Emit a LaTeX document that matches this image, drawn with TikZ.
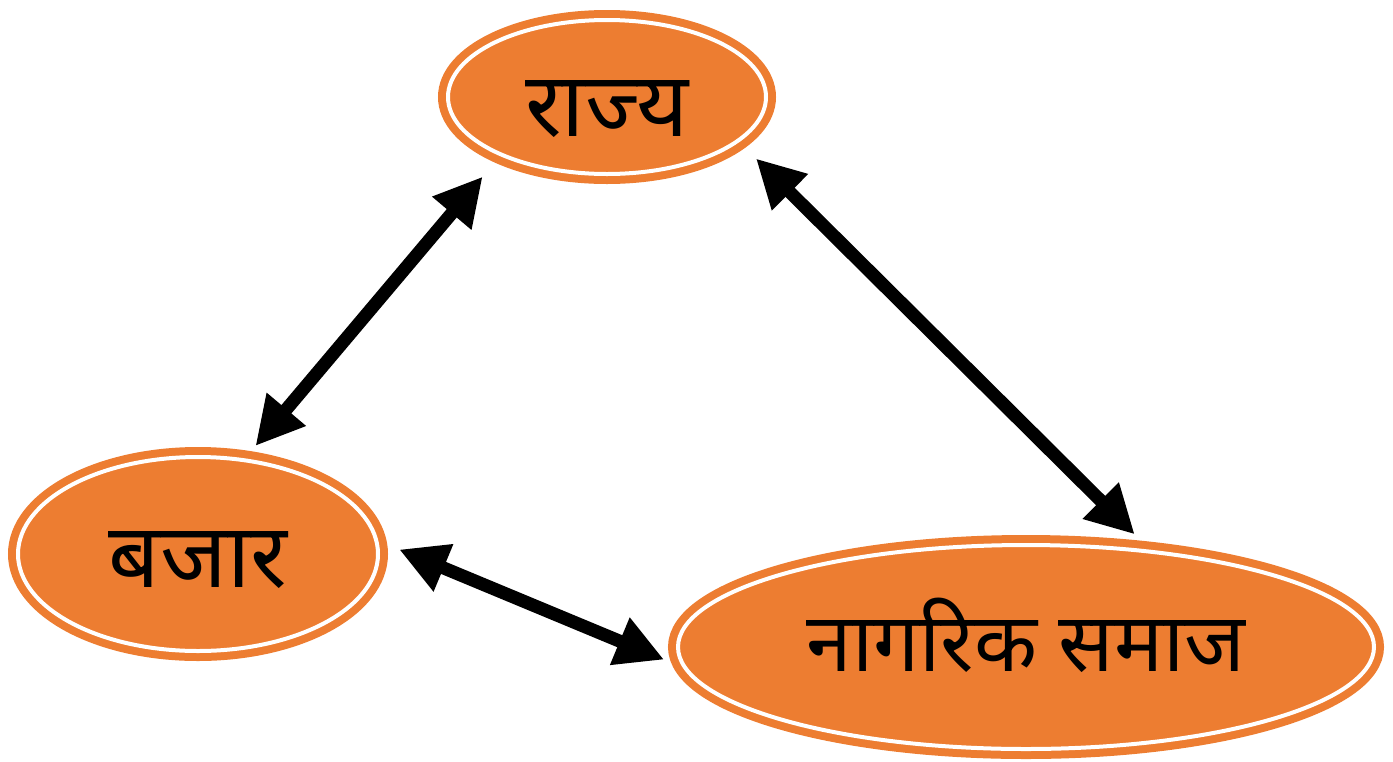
\documentclass[tikz,border=0pt]{standalone}
\usepackage{fontspec}
\usetikzlibrary{shapes.geometric,arrows.meta}
\newfontfamily\devfont[Script=Devanagari]{Noto Sans}
\definecolor{boxorange}{HTML}{ED7D31}

\begin{document}
\begin{tikzpicture}[x=0.5pt, y=-0.5pt,
    sector/.style={ellipse, fill=boxorange, draw=boxorange, line width=4pt,
      double=white, double distance=2pt, inner sep=0pt, outer sep=8pt},
    sectortext/.style={font=\devfont\fontsize{45}{48}\selectfont},
    link/.style={{Triangle[length=24pt,width=24pt]}-{Triangle[length=24pt,width=24pt]},
      line width=6.5pt}]
    \useasboundingbox (0,0) rectangle (1393,761);
    % State
    \node[sector, minimum width=159pt, minimum height=77pt,
      label={[sectortext, yshift=-6pt]center:राज्य}] (rajya) at (607,97) {};
    % Market
    \node[sector, minimum width=180pt, minimum height=97pt,
      label={[sectortext, yshift=-3pt]center:बजार}] (bajar) at (198,554) {};
    % Civil society
    \node[sector, minimum width=348pt, minimum height=102pt,
      label={[sectortext, font=\devfont\fontsize{41}{44}\selectfont, yshift=6pt]center:नागरिक समाज}] (samaj) at (1026,647) {};
    % Arrows
    \draw[link, shorten >=6.5pt] (bajar.62.8) -- (rajya.211);
    \draw[link, shorten <=5pt] (rajya.339.5) -- (samaj.46.9);
    \draw[link, shorten <=3pt] (bajar.2) -- (samaj.182.2);
\end{tikzpicture}
\end{document}
